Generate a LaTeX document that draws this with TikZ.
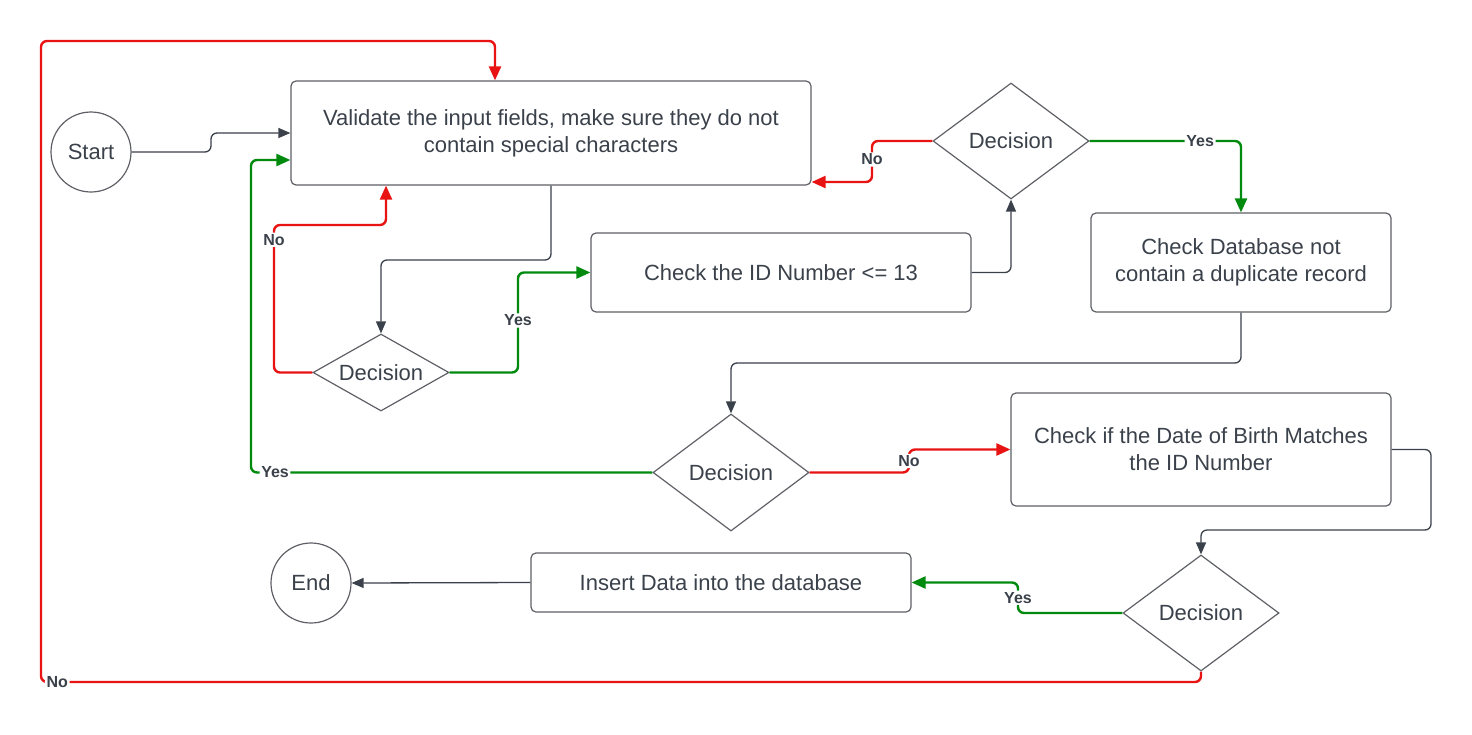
\documentclass[tikz,border=0pt]{standalone}
\usepackage{fontspec}
\setmainfont{Liberation Sans}
\usetikzlibrary{shapes.geometric,arrows.meta}
\definecolor{lred}{HTML}{E81313}
\definecolor{lgreen}{HTML}{008A0E}
\definecolor{ltext}{HTML}{3A414A}
\definecolor{lline}{HTML}{3A414A}
\definecolor{lborder}{HTML}{5E6066}
\begin{document}
\begin{tikzpicture}[x=0.5pt,y=-0.5pt,
 box/.style={draw=lborder,line width=0.6pt,rounded corners=2.5pt,inner sep=0pt,align=center,text=ltext,font=\fontsize{11}{13.5}\selectfont},
 dec/.style={draw=lborder,line width=0.6pt,diamond,inner sep=0pt,text=ltext,font=\fontsize{11}{13.5}\selectfont},
 term/.style={draw=lborder,circle,line width=0.6pt,minimum size=40pt,inner sep=0pt,text=ltext,font=\fontsize{11}{13.5}\selectfont},
 garr/.style={draw=lline,line width=0.65pt,-{Triangle[length=6pt,width=5pt]},rounded corners=3pt},
 rarr/.style={draw=lred,line width=1.2pt,-{Triangle[length=7pt,width=6pt]},rounded corners=3pt},
 grarr/.style={draw=lgreen,line width=1.2pt,-{Triangle[length=7pt,width=6pt]},rounded corners=3pt},
 lab/.style={fill=white,font=\bfseries\fontsize{8}{9}\selectfont,text=ltext,inner sep=0.8pt}]
\useasboundingbox (0,0) rectangle (1472,734);

\node[term] (start) at (91,152) {Start};
\node[box,minimum width=260pt,minimum height=52pt] (val) at (551,133) {Validate the input fields, make sure they do not\\contain special characters\vphantom{g}};
\node[dec,aspect=1.77,minimum width=68pt,minimum height=38.5pt] (d1) at (381,372.5) {Decision};
\node[box,minimum width=190pt,minimum height=39.5pt] (cid) at (781,272.5) {Check the ID Number <= 13};
\node[dec,aspect=1.34,minimum width=78pt,minimum height=58pt] (d2) at (1011,141) {Decision};
\node[box,minimum width=150pt,minimum height=49.5pt] (cdb) at (1241,262.5) {Check Database not\\contain a duplicate record};
\node[dec,aspect=1.33,minimum width=78pt,minimum height=58.5pt] (d3) at (731,472.5) {Decision};
\node[box,minimum width=190pt,minimum height=56.5pt] (dob) at (1201,449.5) {Check if the Date of Birth Matches\\the ID Number};
\node[dec,aspect=1.34,minimum width=78pt,minimum height=58pt] (d4) at (1201,613) {Decision};
\node[box,minimum width=190pt,minimum height=29.5pt] (ins) at (721,582.5) {Insert Data into the database};
\node[term] (end) at (311,583) {End};

% Start -> Validate
\draw[garr] (start.east) -- (211,152) -- (211,133) -- (val.west);
% Validate -> d1
\draw[garr] (val.south) -- (551,260) -| (d1.north);
% d1 No -> Validate
\draw[rarr] (d1.west) -- (274,372.5) -- node[lab,pos=0.9]{No} (274,225) -| ([xshift=-82.5pt]val.south);
% d1 Yes -> check ID
\draw[grarr] (d1.east) -- (518,372.5) -- node[lab,pos=0.52]{Yes} (518,272.5) -- (cid.west);
% check ID -> d2
\draw[garr] (cid.east) -| (d2.south);
% d2 No -> Validate
\draw[rarr] (d2.west) -- (872,141) -- node[lab,pos=0.45]{No} (872,182) -- ([yshift=-24.5pt]val.east);
% d2 Yes -> check DB
\draw[grarr] (d2.east) -- node[lab,pos=0.73]{Yes} (1241,141) -- (cdb.north);
% check DB -> d3
\draw[garr] (cdb.south) -- (1241,363) -| (d3.north);
% d3 Yes -> Validate
\draw[grarr] (d3.west) -- node[lab,pos=0.94]{Yes} (251,472.5) -- (251,160) -- ([yshift=-13.5pt]val.west);
% d3 No -> DOB
\draw[rarr] (d3.east) -- (909,472.5) -- node[lab,pos=0.5]{No} (909,449.5) -- (dob.west);
% DOB -> d4
\draw[garr] (dob.east) -- (1431,449.5) -- (1431,530) -| (d4.north);
% d4 Yes -> Insert
\draw[grarr] (d4.west) -- (1018,613) -- node[lab,pos=0.5]{Yes} (1018,582.5) -- (ins.east);
% Insert -> End
\draw[garr] (ins.west) -- (end.east);
% d4 No -> Validate
\draw[rarr] (d4.south) -- (1201,682) -- node[lab,pos=0.986]{No} (41,682) -- (41,41) -| ([xshift=-28pt]val.north);
\end{tikzpicture}
\end{document}
